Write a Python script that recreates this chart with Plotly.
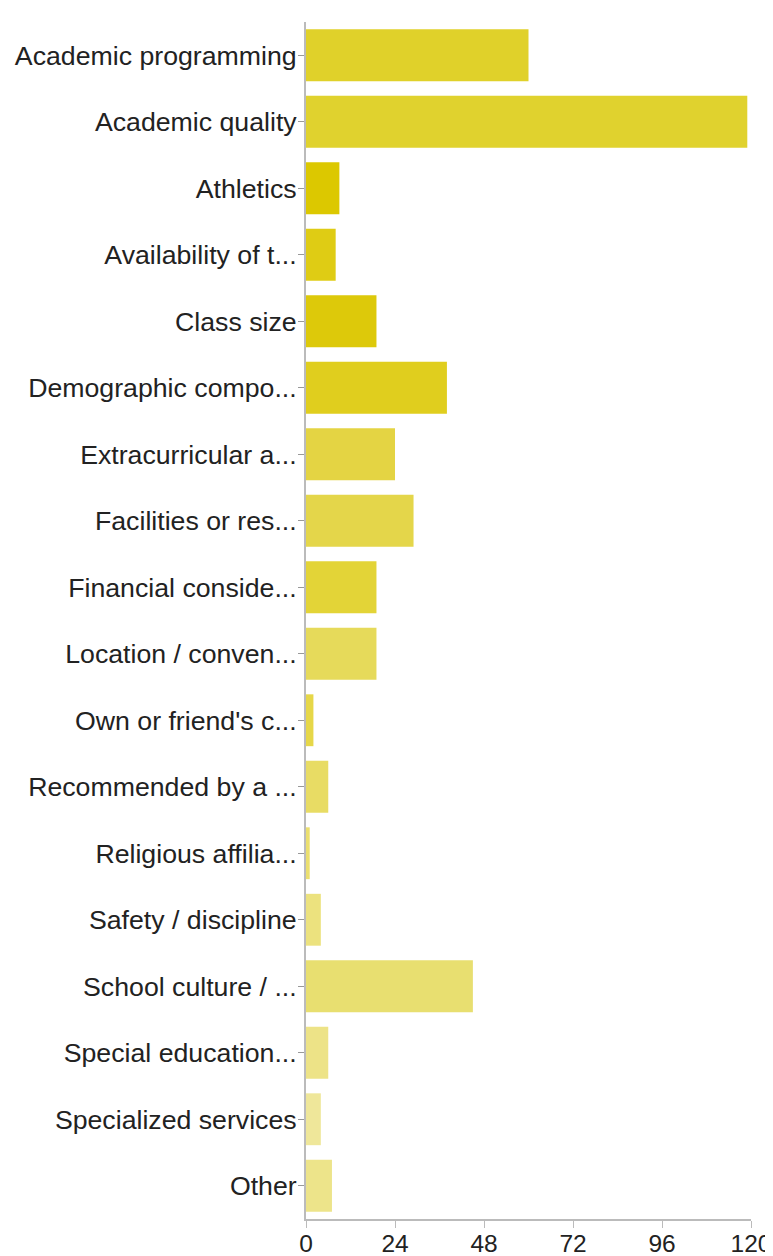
import plotly.graph_objects as go

categories = [
    "Academic programming", "Academic quality", "Athletics", "Availability of t...",
    "Class size", "Demographic compo...", "Extracurricular a...", "Facilities or res...",
    "Financial conside...", "Location / conven...", "Own or friend's c...",
    "Recommended by a ...", "Religious affilia...", "Safety / discipline",
    "School culture / ...", "Special education...", "Specialized services", "Other",
]
values = [60, 119, 9, 8, 19, 38, 24, 29, 19, 19, 2, 6, 1, 4, 45, 6, 4, 7]
colors = [
    "#e0d12a", "#e0d22e", "#dcc800", "#dfcc14", "#ddc90a", "#e0ce1e",
    "#e4d443", "#e4d64a", "#e3d437", "#e6da5a", "#e6d748", "#e8dc64",
    "#ebdf6e", "#ece27e", "#e8df70", "#ede387", "#efe79a", "#ede48a",
]
x_ticks = [0, 24, 48, 72, 96, 120]

fig = go.Figure(go.Bar(
    y=categories, x=values, orientation="h",
    marker=dict(color=colors, line=dict(width=0)),
))

fig.update_layout(
    width=773, height=1256,
    margin=dict(l=298, r=30, t=14, b=45, autoexpand=False),
    plot_bgcolor="white", paper_bgcolor="white",
    bargap=0.22,
    showlegend=False,
    font=dict(family="Liberation Sans, Arial, Helvetica, sans-serif", size=26, color="#222"),
)
fig.update_xaxes(
    range=[0, 120], tickvals=x_ticks, showgrid=False, zeroline=False,
    showline=True, linecolor="#bbbbbb", linewidth=2,
    ticks="outside", ticklen=7, tickcolor="#bbbbbb", tickwidth=1,
    tickfont=dict(size=24.5, color="#222"), automargin=False,
    ticklabelstandoff=-5,
)
fig.update_yaxes(
    autorange="reversed", showgrid=False, zeroline=False,
    showline=True, linecolor="#bbbbbb", linewidth=2,
    ticks="outside", ticklen=6, tickcolor="#999999", tickwidth=1,
    tickfont=dict(size=26.7, color="#222"), automargin=False,
    ticklabelstandoff=-4,
)

fig.write_html("out.html")
